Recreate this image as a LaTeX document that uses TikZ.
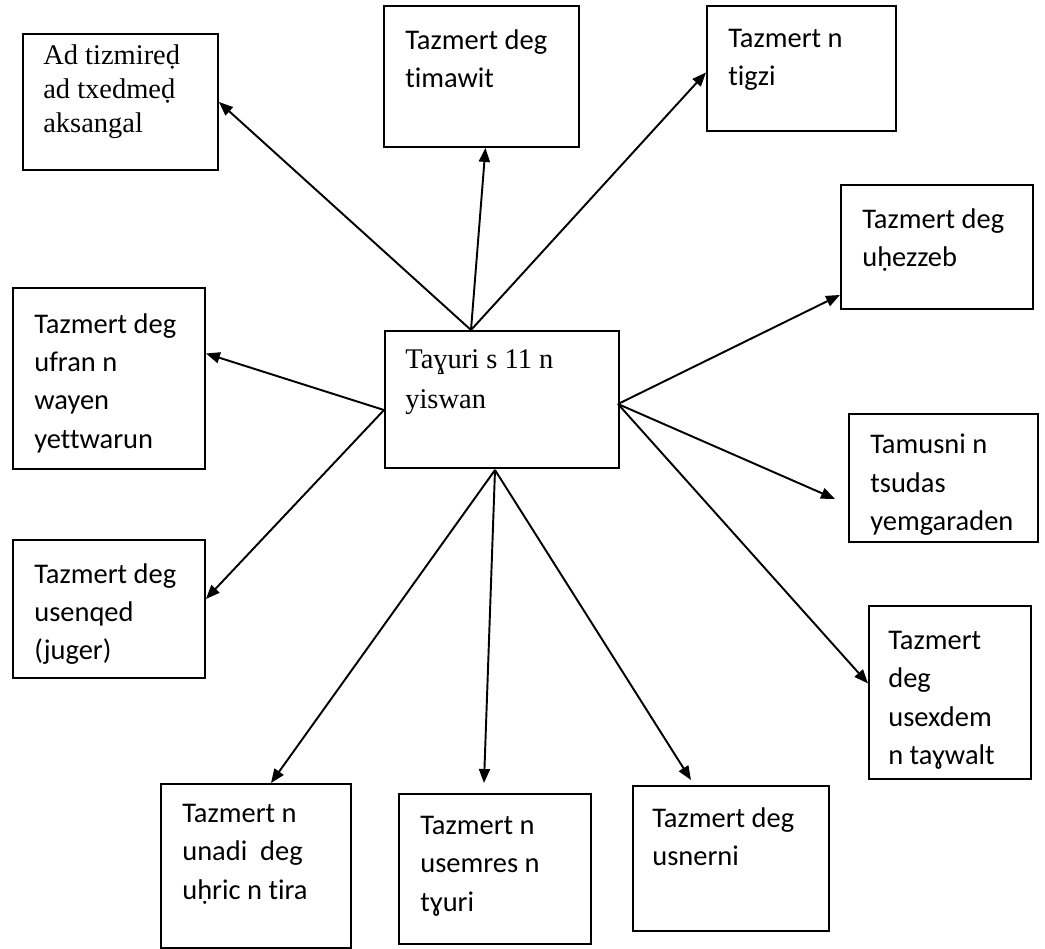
\documentclass[tikz,border=0pt]{standalone}
\usepackage{fontspec}
\usetikzlibrary{arrows.meta}
\newfontfamily\calibri[Ligatures=NoCommon]{Carlito}
\newfontfamily\timesfont{Liberation Serif}

\begin{document}
\begin{tikzpicture}[
  x=0.02cm, y=-0.02cm,
  box/.style 2 args={draw, line width=1.1pt, anchor=north west, inner sep=0pt,
    minimum width=#1*0.02cm, minimum height=#2*0.02cm},
  cal/.style={font=\calibri\fontsize{16.2}{21.8}\selectfont, align=left, inner sep=0pt,
    anchor=north west, xshift=0.44cm, yshift=-0.48cm},
  tms/.style={font=\timesfont\fontsize{16.2}{19.6}\selectfont, align=left, inner sep=0pt,
    anchor=north west, xshift=0.42cm, yshift=-0.22cm},
  arr/.style={-{Triangle[length=0.28cm,width=0.22cm]}, line width=1.1pt}
]
\useasboundingbox (0,0) rectangle (1045,948);

% centre
\node [box={234}{137}, label={[tms, yshift=-0.16cm, font=\timesfont\fontsize{16.2}{22.8}\selectfont]north west:{Taɣuri s 11 n\\yiswan}}] (ctr) at (384,330) {};
\coordinate (hubN) at (471,330);
\coordinate (hubE) at (618,404);
\coordinate (hubW) at (384,410);
\coordinate (hubS) at (495,470);

% boxes round it
\node [box={195}{136}, label={[tms]north west:{Ad tizmireḍ\\ad txedmeḍ\\aksangal}}] (tizmired) at (22,33) {};
\node [box={195}{141}, label={[cal]north west:{Tazmert deg\\timawit}}] (timawit) at (383,5) {};
\node [box={189}{125}, label={[cal]north west:{Tazmert n\\tigzi}}] (tigzi) at (706,5) {};
\node [box={192}{124}, label={[cal]north west:{Tazmert deg\\uḥezzeb}}] (uhezzeb) at (840,184) {};
\node [box={189}{128}, label={[cal, yshift=0.06cm]north west:{Tamusni n\\tsudas\\yemgaraden}}] (tamusni) at (848,413) {};
\node [box={162}{173}, label={[cal, xshift=-0.04cm, yshift=-0.04cm]north west:{Tazmert\\deg\\usexdem\\n taɣwalt}}] (usexdem) at (868,605) {};
\node [box={192}{181}, label={[cal, yshift=-0.04cm]north west:{Tazmert deg\\ufran n\\wayen\\yettwarun}}] (ufran) at (12,287) {};
\node [box={192}{138}, label={[cal]north west:{Tazmert deg\\usenqed\\(juger)}}] (usenqed) at (12,539) {};
\node [box={190}{164}, label={[cal, yshift=0.06cm]north west:{Tazmert n\\unadi\ \ deg\\uḥric n tira}}] (unadi) at (160,783) {};
\node [box={192}{150}, label={[cal, yshift=0.02cm]north west:{Tazmert n\\usemres n\\tɣuri}}] (usemres) at (398,793) {};
\node [box={196}{145}, label={[cal, xshift=-0.04cm, yshift=0.04cm]north west:{Tazmert deg\\usnerni}}] (usnerni) at (632,785) {};

% arrows
\draw [arr] (hubN) -- (tizmired.east);
\draw [arr] (hubN) -- ([xshift=0.08cm]timawit.south);
\draw [arr] (hubN) -- ([yshift=-0.08cm]tigzi.west);
\draw [arr] (hubE) -- ([yshift=0.3cm]uhezzeb.south west);
\draw [arr] (hubE) -- ([xshift=-0.26cm,yshift=-0.42cm]tamusni.west);
\draw [arr] (hubE) -- ([yshift=0.18cm]usexdem.west);
\draw [arr] (hubW) -- ([yshift=0.5cm]ufran.east);
\draw [arr] (hubW) -- ([yshift=0.2cm]usenqed.east);
\draw [arr] (hubS) -- ([xshift=0.3cm]unadi.north);
\draw [arr] (hubS) -- ([xshift=-0.22cm,yshift=0.2cm]usemres.north);
\draw [arr] (hubS) -- ([xshift=-0.8cm,yshift=0.1cm]usnerni.north);

\end{tikzpicture}
\end{document}
